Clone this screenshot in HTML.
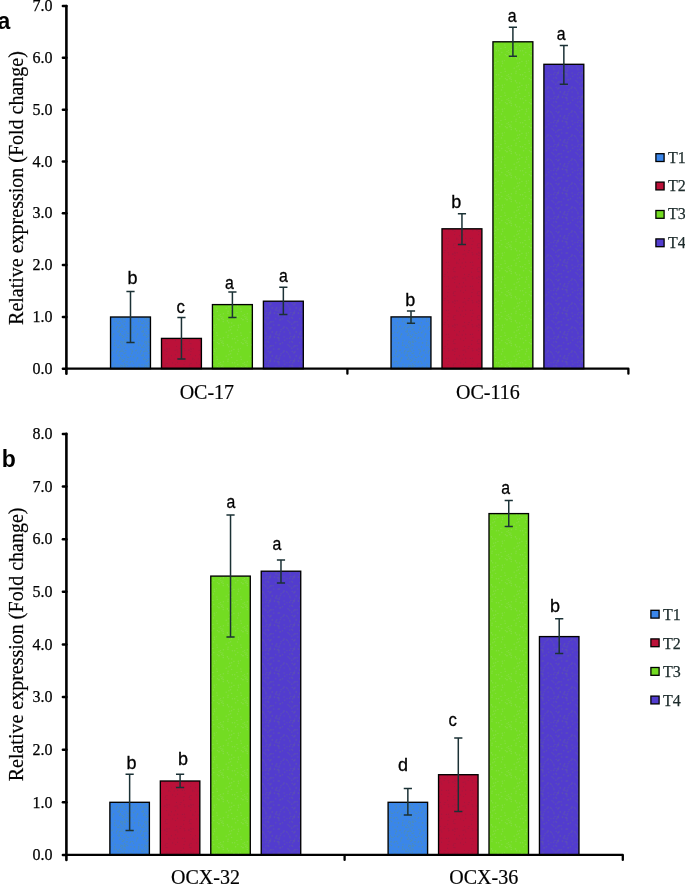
<!DOCTYPE html>
<html><head><meta charset="utf-8"><style>
html,body{margin:0;padding:0;background:#fff;}
svg{display:block;will-change:transform;}
.tick{font-family:"Liberation Serif",serif;font-size:16px;fill:#000;stroke:#000;stroke-width:0.25px;}
.cat{font-family:"Liberation Serif",serif;font-size:20px;fill:#000;stroke:#000;stroke-width:0.2px;}
.ytitle{font-family:"Liberation Serif",serif;font-size:20px;fill:#000;stroke:#000;stroke-width:0.2px;}
.leg{font-family:"Liberation Serif",serif;font-size:16px;fill:#1c2b2b;stroke:#1c2b2b;stroke-width:0.25px;}
.sig{font-family:"Liberation Sans",sans-serif;font-size:18px;fill:#000;stroke:#000;stroke-width:0.3px;}
.pl{font-family:"Liberation Sans",sans-serif;font-size:23px;font-weight:bold;fill:#000;}
</style></head><body>
<svg width="685" height="885" viewBox="0 0 685 885">
<defs><pattern id="pT1" width="24" height="24" patternUnits="userSpaceOnUse"><rect width="24" height="24" fill="#3a86ea"/><circle cx="10.9" cy="13.4" r="0.7" fill="#4a8cbc"/><circle cx="22.2" cy="11.2" r="0.7" fill="#4a8cbc"/><circle cx="12.2" cy="14.1" r="0.7" fill="#4a8cbc"/><circle cx="4.4" cy="12.3" r="0.7" fill="#4a8cbc"/><circle cx="15.1" cy="19.0" r="0.7" fill="#4a8cbc"/><circle cx="2.3" cy="7.3" r="0.7" fill="#4a8cbc"/><circle cx="2.2" cy="19.4" r="0.7" fill="#4a8cbc"/><circle cx="16.6" cy="1.0" r="0.7" fill="#4a8cbc"/><circle cx="23.6" cy="23.2" r="0.7" fill="#4a8cbc"/><circle cx="15.7" cy="14.8" r="0.7" fill="#4a8cbc"/><circle cx="3.8" cy="0.4" r="0.7" fill="#4a8cbc"/><circle cx="12.7" cy="1.4" r="0.7" fill="#4a8cbc"/><circle cx="4.6" cy="5.8" r="0.7" fill="#4a8cbc"/><circle cx="0.7" cy="11.1" r="0.7" fill="#4a8cbc"/><circle cx="10.6" cy="20.2" r="0.7" fill="#4a8cbc"/><circle cx="12.5" cy="15.4" r="0.7" fill="#4a8cbc"/><circle cx="12.0" cy="15.9" r="0.7" fill="#4a8cbc"/><circle cx="11.0" cy="6.7" r="0.7" fill="#4a8cbc"/><circle cx="23.9" cy="23.9" r="0.7" fill="#4a8cbc"/><circle cx="20.2" cy="17.0" r="0.7" fill="#4a8cbc"/><circle cx="7.6" cy="5.5" r="0.7" fill="#4a8cbc"/><circle cx="6.9" cy="1.7" r="0.7" fill="#4a8cbc"/><circle cx="18.4" cy="9.6" r="0.7" fill="#4a8cbc"/><circle cx="20.3" cy="9.3" r="0.7" fill="#4a8cbc"/><circle cx="23.0" cy="20.3" r="0.7" fill="#4a8cbc"/><circle cx="0.0" cy="5.0" r="0.7" fill="#4a8cbc"/><circle cx="21.8" cy="11.3" r="0.7" fill="#4a8cbc"/><circle cx="23.5" cy="9.5" r="0.7" fill="#4a8cbc"/><circle cx="1.8" cy="15.1" r="0.7" fill="#4a8cbc"/><circle cx="18.7" cy="6.5" r="0.7" fill="#4a8cbc"/><circle cx="2.1" cy="8.0" r="0.7" fill="#4a8cbc"/><circle cx="23.1" cy="18.2" r="0.7" fill="#4a8cbc"/><circle cx="2.8" cy="5.9" r="0.7" fill="#4a8cbc"/><circle cx="2.4" cy="1.4" r="0.7" fill="#4a8cbc"/><circle cx="19.1" cy="4.3" r="0.7" fill="#4a8cbc"/><circle cx="13.4" cy="10.7" r="0.7" fill="#4a8cbc"/><circle cx="4.6" cy="17.6" r="0.7" fill="#4a8cbc"/><circle cx="3.1" cy="15.4" r="0.7" fill="#4a8cbc"/><circle cx="2.8" cy="10.1" r="0.7" fill="#4a8cbc"/><circle cx="5.1" cy="6.5" r="0.7" fill="#4a8cbc"/><circle cx="23.3" cy="19.3" r="0.7" fill="#4a8cbc"/><circle cx="7.3" cy="21.2" r="0.7" fill="#4a8cbc"/><circle cx="5.1" cy="9.5" r="0.7" fill="#4a8cbc"/><circle cx="20.5" cy="15.4" r="0.7" fill="#4a8cbc"/><circle cx="2.4" cy="23.7" r="0.7" fill="#4a8cbc"/><circle cx="5.1" cy="6.2" r="0.7" fill="#4a8cbc"/><circle cx="18.5" cy="7.9" r="0.7" fill="#4a8cbc"/><circle cx="7.1" cy="1.8" r="0.7" fill="#4a8cbc"/><circle cx="2.2" cy="14.0" r="0.7" fill="#4a8cbc"/><circle cx="5.8" cy="14.4" r="0.7" fill="#4a8cbc"/><circle cx="8.9" cy="10.9" r="0.7" fill="#4a8cbc"/><circle cx="23.0" cy="11.6" r="0.7" fill="#4a8cbc"/><circle cx="13.8" cy="20.8" r="0.7" fill="#4a8cbc"/><circle cx="4.4" cy="3.7" r="0.7" fill="#4a8cbc"/><circle cx="21.8" cy="19.6" r="0.7" fill="#4a8cbc"/><circle cx="6.0" cy="4.6" r="0.7" fill="#4a8cbc"/><circle cx="17.7" cy="22.6" r="0.7" fill="#4a8cbc"/><circle cx="4.7" cy="22.8" r="0.7" fill="#4a8cbc"/><circle cx="21.2" cy="14.5" r="0.7" fill="#4a8cbc"/><circle cx="10.1" cy="2.5" r="0.7" fill="#4a8cbc"/><circle cx="0.9" cy="23.1" r="0.7" fill="#4a8cbc"/><circle cx="5.7" cy="16.9" r="0.7" fill="#4a8cbc"/><circle cx="6.2" cy="19.8" r="0.7" fill="#4a8cbc"/><circle cx="14.3" cy="7.0" r="0.7" fill="#4a8cbc"/><circle cx="4.2" cy="17.3" r="0.7" fill="#4a8cbc"/><circle cx="1.7" cy="5.5" r="0.7" fill="#4a8cbc"/><circle cx="13.4" cy="20.5" r="0.7" fill="#4a8cbc"/><circle cx="14.7" cy="6.7" r="0.7" fill="#4a8cbc"/><circle cx="22.0" cy="4.9" r="0.7" fill="#4a8cbc"/><circle cx="0.4" cy="6.5" r="0.7" fill="#4a8cbc"/><circle cx="10.7" cy="1.5" r="0.7" fill="#4a8cbc"/><circle cx="4.2" cy="8.9" r="0.7" fill="#4a8cbc"/><circle cx="13.7" cy="3.2" r="0.7" fill="#4a8cbc"/><circle cx="8.7" cy="21.4" r="0.7" fill="#4a8cbc"/><circle cx="23.5" cy="15.8" r="0.7" fill="#4a8cbc"/><circle cx="16.6" cy="14.0" r="0.7" fill="#4a8cbc"/><circle cx="3.4" cy="0.8" r="0.7" fill="#4a8cbc"/><circle cx="0.4" cy="21.8" r="0.7" fill="#4a8cbc"/><circle cx="16.8" cy="23.1" r="0.7" fill="#4a8cbc"/><circle cx="0.5" cy="15.3" r="0.7" fill="#4a8cbc"/><circle cx="11.6" cy="17.5" r="0.7" fill="#4a8cbc"/><circle cx="7.7" cy="24.0" r="0.7" fill="#4a8cbc"/><circle cx="1.8" cy="13.1" r="0.7" fill="#4a8cbc"/><circle cx="17.7" cy="21.6" r="0.7" fill="#4a8cbc"/><circle cx="17.7" cy="16.9" r="0.7" fill="#4a8cbc"/></pattern><pattern id="pT2" width="24" height="24" patternUnits="userSpaceOnUse"><rect width="24" height="24" fill="#bb1139"/><circle cx="23.0" cy="3.4" r="0.7" fill="#a8143c"/><circle cx="0.6" cy="24.0" r="0.7" fill="#a8143c"/><circle cx="4.4" cy="2.9" r="0.7" fill="#a8143c"/><circle cx="15.6" cy="8.3" r="0.7" fill="#a8143c"/><circle cx="21.3" cy="5.6" r="0.7" fill="#a8143c"/><circle cx="23.0" cy="7.7" r="0.7" fill="#a8143c"/><circle cx="14.4" cy="22.4" r="0.7" fill="#a8143c"/><circle cx="16.4" cy="22.2" r="0.7" fill="#a8143c"/><circle cx="17.0" cy="1.2" r="0.7" fill="#a8143c"/><circle cx="21.2" cy="14.1" r="0.7" fill="#a8143c"/><circle cx="7.5" cy="4.6" r="0.7" fill="#a8143c"/><circle cx="20.4" cy="14.0" r="0.7" fill="#a8143c"/><circle cx="22.5" cy="18.6" r="0.7" fill="#a8143c"/><circle cx="23.1" cy="13.6" r="0.7" fill="#a8143c"/><circle cx="16.8" cy="14.7" r="0.7" fill="#a8143c"/><circle cx="6.2" cy="23.0" r="0.7" fill="#a8143c"/><circle cx="7.5" cy="18.7" r="0.7" fill="#a8143c"/><circle cx="22.9" cy="15.6" r="0.7" fill="#a8143c"/><circle cx="3.4" cy="19.8" r="0.7" fill="#a8143c"/><circle cx="16.0" cy="4.4" r="0.7" fill="#a8143c"/><circle cx="1.2" cy="12.8" r="0.7" fill="#a8143c"/><circle cx="0.8" cy="22.2" r="0.7" fill="#a8143c"/><circle cx="12.2" cy="12.4" r="0.7" fill="#a8143c"/><circle cx="9.8" cy="15.9" r="0.7" fill="#a8143c"/><circle cx="22.0" cy="7.4" r="0.7" fill="#a8143c"/><circle cx="9.0" cy="14.0" r="0.7" fill="#a8143c"/><circle cx="7.1" cy="14.3" r="0.7" fill="#a8143c"/><circle cx="13.0" cy="10.4" r="0.7" fill="#a8143c"/><circle cx="16.2" cy="12.7" r="0.7" fill="#a8143c"/><circle cx="2.1" cy="23.9" r="0.7" fill="#a8143c"/><circle cx="8.5" cy="10.4" r="0.7" fill="#a8143c"/><circle cx="9.7" cy="22.3" r="0.7" fill="#a8143c"/><circle cx="22.9" cy="12.3" r="0.7" fill="#a8143c"/><circle cx="9.6" cy="2.3" r="0.7" fill="#a8143c"/><circle cx="21.5" cy="4.1" r="0.7" fill="#a8143c"/></pattern><pattern id="pT3" width="24" height="24" patternUnits="userSpaceOnUse"><rect width="24" height="24" fill="#73dc22"/><circle cx="13.7" cy="15.2" r="0.7" fill="#84dc42"/><circle cx="19.6" cy="6.7" r="0.7" fill="#84dc42"/><circle cx="15.6" cy="21.4" r="0.7" fill="#84dc42"/><circle cx="21.8" cy="4.5" r="0.7" fill="#84dc42"/><circle cx="15.6" cy="14.8" r="0.7" fill="#84dc42"/><circle cx="12.1" cy="23.2" r="0.7" fill="#84dc42"/><circle cx="12.7" cy="10.7" r="0.7" fill="#84dc42"/><circle cx="22.6" cy="15.3" r="0.7" fill="#84dc42"/><circle cx="7.2" cy="7.4" r="0.7" fill="#84dc42"/><circle cx="11.9" cy="1.3" r="0.7" fill="#84dc42"/><circle cx="14.6" cy="17.7" r="0.7" fill="#84dc42"/><circle cx="10.2" cy="20.3" r="0.7" fill="#84dc42"/><circle cx="22.3" cy="13.3" r="0.7" fill="#84dc42"/><circle cx="16.4" cy="2.8" r="0.7" fill="#84dc42"/><circle cx="1.3" cy="23.5" r="0.7" fill="#84dc42"/><circle cx="6.8" cy="5.1" r="0.7" fill="#84dc42"/><circle cx="21.5" cy="18.0" r="0.7" fill="#84dc42"/><circle cx="3.0" cy="7.7" r="0.7" fill="#84dc42"/><circle cx="5.8" cy="6.5" r="0.7" fill="#84dc42"/><circle cx="0.2" cy="12.6" r="0.7" fill="#84dc42"/><circle cx="7.3" cy="9.5" r="0.7" fill="#84dc42"/><circle cx="4.5" cy="2.6" r="0.7" fill="#84dc42"/><circle cx="0.8" cy="20.9" r="0.7" fill="#84dc42"/><circle cx="17.9" cy="13.4" r="0.7" fill="#84dc42"/><circle cx="3.0" cy="3.6" r="0.7" fill="#84dc42"/><circle cx="2.9" cy="7.6" r="0.7" fill="#84dc42"/><circle cx="1.4" cy="6.6" r="0.7" fill="#84dc42"/><circle cx="4.9" cy="4.6" r="0.7" fill="#84dc42"/><circle cx="15.7" cy="11.0" r="0.7" fill="#84dc42"/><circle cx="11.4" cy="8.6" r="0.7" fill="#84dc42"/><circle cx="12.9" cy="18.8" r="0.7" fill="#84dc42"/><circle cx="7.4" cy="1.7" r="0.7" fill="#84dc42"/><circle cx="11.5" cy="9.1" r="0.7" fill="#84dc42"/><circle cx="18.7" cy="2.7" r="0.7" fill="#84dc42"/><circle cx="20.9" cy="0.4" r="0.7" fill="#84dc42"/></pattern><pattern id="pT4" width="24" height="24" patternUnits="userSpaceOnUse"><rect width="24" height="24" fill="#523cce"/><circle cx="9.8" cy="13.0" r="0.7" fill="#5a4eb4"/><circle cx="20.7" cy="4.2" r="0.7" fill="#5a4eb4"/><circle cx="5.4" cy="0.7" r="0.7" fill="#5a4eb4"/><circle cx="2.8" cy="0.2" r="0.7" fill="#5a4eb4"/><circle cx="3.8" cy="12.3" r="0.7" fill="#5a4eb4"/><circle cx="23.7" cy="16.6" r="0.7" fill="#5a4eb4"/><circle cx="9.1" cy="9.7" r="0.7" fill="#5a4eb4"/><circle cx="16.6" cy="7.8" r="0.7" fill="#5a4eb4"/><circle cx="1.8" cy="20.2" r="0.7" fill="#5a4eb4"/><circle cx="14.8" cy="2.7" r="0.7" fill="#5a4eb4"/><circle cx="1.7" cy="2.3" r="0.7" fill="#5a4eb4"/><circle cx="23.0" cy="2.6" r="0.7" fill="#5a4eb4"/><circle cx="15.0" cy="23.3" r="0.7" fill="#5a4eb4"/><circle cx="0.8" cy="9.3" r="0.7" fill="#5a4eb4"/><circle cx="11.5" cy="22.0" r="0.7" fill="#5a4eb4"/><circle cx="4.5" cy="6.2" r="0.7" fill="#5a4eb4"/><circle cx="6.0" cy="1.2" r="0.7" fill="#5a4eb4"/><circle cx="16.2" cy="19.6" r="0.7" fill="#5a4eb4"/><circle cx="10.5" cy="0.9" r="0.7" fill="#5a4eb4"/><circle cx="17.1" cy="17.7" r="0.7" fill="#5a4eb4"/><circle cx="15.7" cy="7.9" r="0.7" fill="#5a4eb4"/><circle cx="19.9" cy="15.1" r="0.7" fill="#5a4eb4"/><circle cx="14.2" cy="13.0" r="0.7" fill="#5a4eb4"/><circle cx="5.6" cy="10.9" r="0.7" fill="#5a4eb4"/><circle cx="19.1" cy="16.4" r="0.7" fill="#5a4eb4"/><circle cx="8.3" cy="19.7" r="0.7" fill="#5a4eb4"/><circle cx="20.1" cy="1.0" r="0.7" fill="#5a4eb4"/><circle cx="3.8" cy="5.4" r="0.7" fill="#5a4eb4"/><circle cx="0.4" cy="18.1" r="0.7" fill="#5a4eb4"/><circle cx="15.5" cy="13.0" r="0.7" fill="#5a4eb4"/><circle cx="23.9" cy="8.6" r="0.7" fill="#5a4eb4"/><circle cx="4.8" cy="2.7" r="0.7" fill="#5a4eb4"/><circle cx="8.2" cy="20.1" r="0.7" fill="#5a4eb4"/><circle cx="14.6" cy="1.4" r="0.7" fill="#5a4eb4"/><circle cx="10.4" cy="1.2" r="0.7" fill="#5a4eb4"/><circle cx="15.0" cy="2.9" r="0.7" fill="#5a4eb4"/><circle cx="4.3" cy="15.4" r="0.7" fill="#5a4eb4"/><circle cx="20.1" cy="14.9" r="0.7" fill="#5a4eb4"/><circle cx="7.0" cy="15.5" r="0.7" fill="#5a4eb4"/><circle cx="6.5" cy="0.2" r="0.7" fill="#5a4eb4"/><circle cx="6.6" cy="16.5" r="0.7" fill="#5a4eb4"/><circle cx="15.0" cy="4.6" r="0.7" fill="#5a4eb4"/><circle cx="20.2" cy="19.9" r="0.7" fill="#5a4eb4"/><circle cx="6.7" cy="23.1" r="0.7" fill="#5a4eb4"/><circle cx="6.3" cy="1.6" r="0.7" fill="#5a4eb4"/><circle cx="12.3" cy="20.8" r="0.7" fill="#5a4eb4"/><circle cx="14.4" cy="13.1" r="0.7" fill="#5a4eb4"/><circle cx="11.7" cy="6.8" r="0.7" fill="#5a4eb4"/><circle cx="7.2" cy="9.7" r="0.7" fill="#5a4eb4"/><circle cx="13.1" cy="22.6" r="0.7" fill="#5a4eb4"/><circle cx="1.7" cy="6.1" r="0.7" fill="#5a4eb4"/><circle cx="22.6" cy="15.8" r="0.7" fill="#5a4eb4"/><circle cx="1.8" cy="10.6" r="0.7" fill="#5a4eb4"/><circle cx="15.6" cy="21.9" r="0.7" fill="#5a4eb4"/><circle cx="2.0" cy="21.7" r="0.7" fill="#5a4eb4"/><circle cx="18.5" cy="6.7" r="0.7" fill="#5a4eb4"/><circle cx="12.8" cy="19.8" r="0.7" fill="#5a4eb4"/><circle cx="5.8" cy="16.8" r="0.7" fill="#5a4eb4"/><circle cx="13.4" cy="1.8" r="0.7" fill="#5a4eb4"/><circle cx="6.5" cy="9.9" r="0.7" fill="#5a4eb4"/></pattern></defs>
<rect x="110.55" y="317.00" width="39.90" height="51.70" fill="url(#pT1)" stroke="#000" stroke-width="1.35"/>
<path d="M130.50 291.60V342.40M126.40 291.60h8.2M126.40 342.40h8.2" stroke="#1b3135" stroke-width="1.5" fill="none"/>
<text transform="translate(132.55,284.10) scale(1.0,1)" class="sig" text-anchor="middle">b</text>
<rect x="161.50" y="338.40" width="39.90" height="30.30" fill="url(#pT2)" stroke="#000" stroke-width="1.35"/>
<path d="M181.45 317.60V359.00M177.35 317.60h8.2M177.35 359.00h8.2" stroke="#1b3135" stroke-width="1.5" fill="none"/>
<text transform="translate(180.60,313.20) scale(0.93,1)" class="sig" text-anchor="middle">c</text>
<rect x="212.45" y="304.60" width="39.90" height="64.10" fill="url(#pT3)" stroke="#000" stroke-width="1.35"/>
<path d="M232.40 292.00V317.60M228.30 292.00h8.2M228.30 317.60h8.2" stroke="#1b3135" stroke-width="1.5" fill="none"/>
<text transform="translate(229.50,288.50) scale(0.88,1)" class="sig" text-anchor="middle">a</text>
<rect x="263.40" y="301.20" width="39.90" height="67.50" fill="url(#pT4)" stroke="#000" stroke-width="1.35"/>
<path d="M283.35 287.30V314.60M279.25 287.30h8.2M279.25 314.60h8.2" stroke="#1b3135" stroke-width="1.5" fill="none"/>
<text transform="translate(283.35,282.20) scale(0.88,1)" class="sig" text-anchor="middle">a</text>
<rect x="391.05" y="316.90" width="39.90" height="51.80" fill="url(#pT1)" stroke="#000" stroke-width="1.35"/>
<path d="M411.00 311.00V323.20M406.90 311.00h8.2M406.90 323.20h8.2" stroke="#1b3135" stroke-width="1.5" fill="none"/>
<text transform="translate(410.30,306.00) scale(1.0,1)" class="sig" text-anchor="middle">b</text>
<rect x="442.00" y="228.80" width="39.90" height="139.90" fill="url(#pT2)" stroke="#000" stroke-width="1.35"/>
<path d="M461.95 213.80V244.40M457.85 213.80h8.2M457.85 244.40h8.2" stroke="#1b3135" stroke-width="1.5" fill="none"/>
<text transform="translate(456.20,207.60) scale(1.0,1)" class="sig" text-anchor="middle">b</text>
<rect x="492.95" y="41.80" width="39.90" height="326.90" fill="url(#pT3)" stroke="#000" stroke-width="1.35"/>
<path d="M512.90 27.30V56.20M508.80 27.30h8.2M508.80 56.20h8.2" stroke="#1b3135" stroke-width="1.5" fill="none"/>
<text transform="translate(512.20,21.60) scale(0.88,1)" class="sig" text-anchor="middle">a</text>
<rect x="543.90" y="64.30" width="39.90" height="304.40" fill="url(#pT4)" stroke="#000" stroke-width="1.35"/>
<path d="M563.85 45.50V84.30M559.75 45.50h8.2M559.75 84.30h8.2" stroke="#1b3135" stroke-width="1.5" fill="none"/>
<text transform="translate(561.20,40.10) scale(0.88,1)" class="sig" text-anchor="middle">a</text>
<path d="M66.4 368.7H628.4 V373.7 M347.4 368.7v5" stroke="#000" stroke-width="2.3" fill="none" stroke-linecap="round" stroke-linejoin="round"/>
<path d="M66.4 6.0V373.7" stroke="#000" stroke-width="2.6" fill="none" stroke-linecap="round"/>
<path d="M62.900000000000006 368.70H66.4" stroke="#000" stroke-width="2.5" stroke-linecap="round"/>
<text x="52.60000000000001" y="373.90" class="tick" text-anchor="end">0.0</text>
<path d="M62.900000000000006 316.89H66.4" stroke="#000" stroke-width="2.5" stroke-linecap="round"/>
<text x="52.60000000000001" y="322.09" class="tick" text-anchor="end">1.0</text>
<path d="M62.900000000000006 265.07H66.4" stroke="#000" stroke-width="2.5" stroke-linecap="round"/>
<text x="52.60000000000001" y="270.27" class="tick" text-anchor="end">2.0</text>
<path d="M62.900000000000006 213.26H66.4" stroke="#000" stroke-width="2.5" stroke-linecap="round"/>
<text x="52.60000000000001" y="218.46" class="tick" text-anchor="end">3.0</text>
<path d="M62.900000000000006 161.44H66.4" stroke="#000" stroke-width="2.5" stroke-linecap="round"/>
<text x="52.60000000000001" y="166.64" class="tick" text-anchor="end">4.0</text>
<path d="M62.900000000000006 109.63H66.4" stroke="#000" stroke-width="2.5" stroke-linecap="round"/>
<text x="52.60000000000001" y="114.83" class="tick" text-anchor="end">5.0</text>
<path d="M62.900000000000006 57.81H66.4" stroke="#000" stroke-width="2.5" stroke-linecap="round"/>
<text x="52.60000000000001" y="63.01" class="tick" text-anchor="end">6.0</text>
<path d="M62.900000000000006 6.00H66.4" stroke="#000" stroke-width="2.5" stroke-linecap="round"/>
<text x="52.60000000000001" y="11.20" class="tick" text-anchor="end">7.0</text>
<text x="206.90" y="399" class="cat" text-anchor="middle">OC-17</text>
<text x="487.90" y="399" class="cat" text-anchor="middle">OC-116</text>
<text transform="translate(23,188) rotate(-90)" class="ytitle" text-anchor="middle">Relative expression (Fold change)</text>
<rect x="655.9" y="153.70" width="8.2" height="7.8" fill="#3a86ea" stroke="#000" stroke-width="1.3"/>
<text x="668" y="162.60" class="leg">T1</text>
<rect x="655.9" y="182.10" width="8.2" height="7.8" fill="#bb1139" stroke="#000" stroke-width="1.3"/>
<text x="668" y="191.00" class="leg">T2</text>
<rect x="655.9" y="210.50" width="8.2" height="7.8" fill="#73dc22" stroke="#000" stroke-width="1.3"/>
<text x="668" y="219.40" class="leg">T3</text>
<rect x="655.9" y="238.90" width="8.2" height="7.8" fill="#523cce" stroke="#000" stroke-width="1.3"/>
<text x="668" y="247.80" class="leg">T4</text>
<text x="-2.5" y="29.3" class="pl">a</text>
<rect x="109.88" y="802.30" width="39.50" height="52.66" fill="url(#pT1)" stroke="#000" stroke-width="1.35"/>
<path d="M129.63 774.20V830.40M125.53 774.20h8.2M125.53 830.40h8.2" stroke="#1b3135" stroke-width="1.5" fill="none"/>
<text transform="translate(131.60,768.60) scale(1.0,1)" class="sig" text-anchor="middle">b</text>
<rect x="160.33" y="781.00" width="39.50" height="73.96" fill="url(#pT2)" stroke="#000" stroke-width="1.35"/>
<path d="M180.08 774.20V787.50M175.98 774.20h8.2M175.98 787.50h8.2" stroke="#1b3135" stroke-width="1.5" fill="none"/>
<text transform="translate(183.10,764.90) scale(1.0,1)" class="sig" text-anchor="middle">b</text>
<rect x="210.78" y="576.10" width="39.50" height="278.86" fill="url(#pT3)" stroke="#000" stroke-width="1.35"/>
<path d="M230.53 515.00V637.00M226.43 515.00h8.2M226.43 637.00h8.2" stroke="#1b3135" stroke-width="1.5" fill="none"/>
<text transform="translate(231.00,507.90) scale(0.88,1)" class="sig" text-anchor="middle">a</text>
<rect x="261.23" y="571.20" width="39.50" height="283.76" fill="url(#pT4)" stroke="#000" stroke-width="1.35"/>
<path d="M280.98 560.00V583.00M276.88 560.00h8.2M276.88 583.00h8.2" stroke="#1b3135" stroke-width="1.5" fill="none"/>
<text transform="translate(277.00,549.50) scale(0.88,1)" class="sig" text-anchor="middle">a</text>
<rect x="388.10" y="802.30" width="39.50" height="52.66" fill="url(#pT1)" stroke="#000" stroke-width="1.35"/>
<path d="M407.85 788.60V815.00M403.75 788.60h8.2M403.75 815.00h8.2" stroke="#1b3135" stroke-width="1.5" fill="none"/>
<text transform="translate(403.10,771.10) scale(1.0,1)" class="sig" text-anchor="middle">d</text>
<rect x="438.55" y="774.70" width="39.50" height="80.26" fill="url(#pT2)" stroke="#000" stroke-width="1.35"/>
<path d="M458.30 738.00V811.50M454.20 738.00h8.2M454.20 811.50h8.2" stroke="#1b3135" stroke-width="1.5" fill="none"/>
<text transform="translate(452.60,725.70) scale(0.93,1)" class="sig" text-anchor="middle">c</text>
<rect x="489.00" y="513.60" width="39.50" height="341.36" fill="url(#pT3)" stroke="#000" stroke-width="1.35"/>
<path d="M508.75 500.50V526.50M504.65 500.50h8.2M504.65 526.50h8.2" stroke="#1b3135" stroke-width="1.5" fill="none"/>
<text transform="translate(505.70,493.70) scale(0.88,1)" class="sig" text-anchor="middle">a</text>
<rect x="539.45" y="636.60" width="39.50" height="218.36" fill="url(#pT4)" stroke="#000" stroke-width="1.35"/>
<path d="M559.20 618.70V653.50M555.10 618.70h8.2M555.10 653.50h8.2" stroke="#1b3135" stroke-width="1.5" fill="none"/>
<text transform="translate(555.10,612.00) scale(1.0,1)" class="sig" text-anchor="middle">b</text>
<path d="M66.4 854.96H622.8 V859.96 M344.6 854.96v5" stroke="#000" stroke-width="2.3" fill="none" stroke-linecap="round" stroke-linejoin="round"/>
<path d="M66.4 433.9V859.96" stroke="#000" stroke-width="2.6" fill="none" stroke-linecap="round"/>
<path d="M62.900000000000006 854.96H66.4" stroke="#000" stroke-width="2.5" stroke-linecap="round"/>
<text x="52.60000000000001" y="860.16" class="tick" text-anchor="end">0.0</text>
<path d="M62.900000000000006 802.33H66.4" stroke="#000" stroke-width="2.5" stroke-linecap="round"/>
<text x="52.60000000000001" y="807.53" class="tick" text-anchor="end">1.0</text>
<path d="M62.900000000000006 749.70H66.4" stroke="#000" stroke-width="2.5" stroke-linecap="round"/>
<text x="52.60000000000001" y="754.90" class="tick" text-anchor="end">2.0</text>
<path d="M62.900000000000006 697.06H66.4" stroke="#000" stroke-width="2.5" stroke-linecap="round"/>
<text x="52.60000000000001" y="702.26" class="tick" text-anchor="end">3.0</text>
<path d="M62.900000000000006 644.43H66.4" stroke="#000" stroke-width="2.5" stroke-linecap="round"/>
<text x="52.60000000000001" y="649.63" class="tick" text-anchor="end">4.0</text>
<path d="M62.900000000000006 591.80H66.4" stroke="#000" stroke-width="2.5" stroke-linecap="round"/>
<text x="52.60000000000001" y="597.00" class="tick" text-anchor="end">5.0</text>
<path d="M62.900000000000006 539.16H66.4" stroke="#000" stroke-width="2.5" stroke-linecap="round"/>
<text x="52.60000000000001" y="544.37" class="tick" text-anchor="end">6.0</text>
<path d="M62.900000000000006 486.53H66.4" stroke="#000" stroke-width="2.5" stroke-linecap="round"/>
<text x="52.60000000000001" y="491.73" class="tick" text-anchor="end">7.0</text>
<path d="M62.900000000000006 433.90H66.4" stroke="#000" stroke-width="2.5" stroke-linecap="round"/>
<text x="52.60000000000001" y="439.10" class="tick" text-anchor="end">8.0</text>
<text x="205.50" y="884" class="cat" text-anchor="middle">OCX-32</text>
<text x="483.70" y="884" class="cat" text-anchor="middle">OCX-36</text>
<text transform="translate(23,644.4) rotate(-90)" class="ytitle" text-anchor="middle">Relative expression (Fold change)</text>
<rect x="650.9" y="610.30" width="8.2" height="7.8" fill="#3a86ea" stroke="#000" stroke-width="1.3"/>
<text x="663" y="620.10" class="leg">T1</text>
<rect x="650.9" y="638.90" width="8.2" height="7.8" fill="#bb1139" stroke="#000" stroke-width="1.3"/>
<text x="663" y="648.70" class="leg">T2</text>
<rect x="650.9" y="667.50" width="8.2" height="7.8" fill="#73dc22" stroke="#000" stroke-width="1.3"/>
<text x="663" y="677.30" class="leg">T3</text>
<rect x="650.9" y="696.10" width="8.2" height="7.8" fill="#523cce" stroke="#000" stroke-width="1.3"/>
<text x="663" y="705.90" class="leg">T4</text>
<text x="1.7" y="467" class="pl">b</text>
</svg>
</body></html>
